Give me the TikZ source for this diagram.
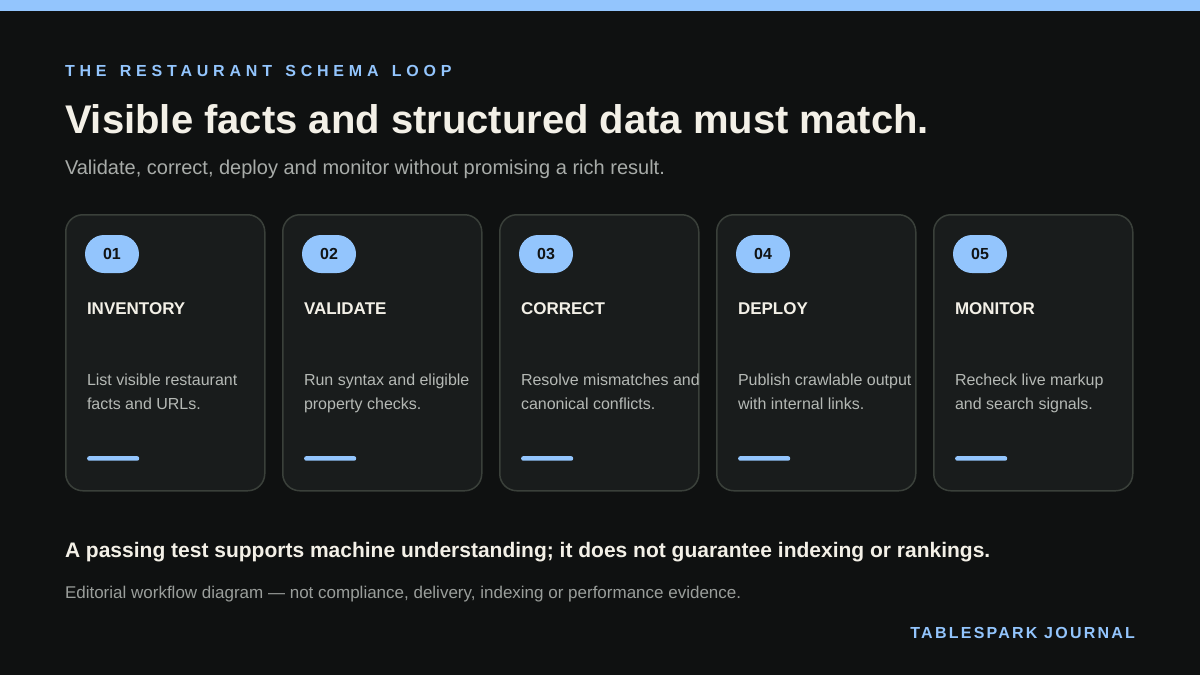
\documentclass[tikz,border=0pt]{standalone}
\usepackage{fontspec}
\setmainfont{Liberation Sans}
\definecolor{bgc}{HTML}{0F1111}
\definecolor{accent}{HTML}{93C5FD}
\definecolor{cardfill}{HTML}{191C1C}
\definecolor{cardline}{HTML}{3A403A}
\definecolor{cream}{HTML}{F3F0E7}
\definecolor{greytext}{HTML}{B5B9B5}
\definecolor{subgrey}{HTML}{A8ACA9}
\definecolor{footgrey}{HTML}{9A9E9B}
\definecolor{badgetext}{HTML}{111415}
\newcommand{\kgap}{\hspace{4pt} }
\tikzset{
  txt/.style={inner sep=0pt, outer sep=0pt, anchor=base west},
  card/.style={draw=cardline, line width=1.5pt, fill=cardfill, rounded corners=17pt,
    minimum width=199pt, minimum height=276pt, anchor=north west, inner sep=0pt},
  badge/.style={fill=accent, rounded corners=19pt, minimum width=54pt, minimum height=38pt,
    inner sep=0pt, text=badgetext, font=\fontsize{16}{19}\selectfont\bfseries},
  bar/.style={fill=accent, rounded corners=2pt, minimum width=52pt, minimum height=4.5pt,
    inner sep=0pt, anchor=north west},
  stitle/.style={txt, text=cream, font=\fontsize{17}{20}\selectfont\bfseries},
  sdesc/.style={txt, text=greytext, font=\fontsize{16}{19}\selectfont},
}
\begin{document}
\begin{tikzpicture}[x=1pt,y=-1pt]
\useasboundingbox (0,0) rectangle (1200,675);
\fill[bgc] (0,0) rectangle (1200,675);
\fill[accent] (0,0) rectangle (1200,10.5);

\node[txt, text=accent, font=\fontsize{16}{19}\selectfont\bfseries\addfontfeature{LetterSpace=30}] (kicker) at (65,76) {THE\kgap RESTAURANT\kgap SCHEMA\kgap LOOP};
\node[txt, text=cream, font=\fontsize{40}{46}\selectfont\bfseries] (title) at (65,133) {Visible facts and structured data must match.};
\node[txt, text=subgrey, font=\fontsize{20}{24}\selectfont] (sub) at (65,174) {Validate, correct, deploy and monitor without promising a rich result.};

\foreach \i/\num/\head/\la/\lb in {
  0/01/INVENTORY/List visible restaurant/facts and URLs.,
  1/02/VALIDATE/Run syntax and eligible/property checks.,
  2/03/CORRECT/Resolve mismatches and/canonical conflicts.,
  3/04/DEPLOY/Publish crawlable output/with internal links.,
  4/05/MONITOR/Recheck live markup/and search signals.}{
  \pgfmathsetmacro{\ox}{65+217*\i}
  \node[card] (card\num) at (\ox,214) {};
  \node[badge] (badge\num) at (\ox+47,254) {\num};
  \node[stitle] (head\num) at (\ox+22,314) {\head};
  \node[sdesc] (da\num) at (\ox+22,385.5) {\la};
  \node[sdesc] (db\num) at (\ox+22,409.5) {\lb};
  \node[bar] (bar\num) at (\ox+22,456) {};
}

\node[txt, text=cream, font=\fontsize{21}{25}\selectfont\bfseries] (note) at (65,557.5) {A passing test supports machine understanding; it does not guarantee indexing or rankings.};
\node[txt, text=footgrey, font=\fontsize{17}{20}\selectfont] (foot) at (65,598.5) {Editorial workflow diagram — not compliance, delivery, indexing or performance evidence.};
\node[inner sep=0pt, outer sep=0pt, anchor=base east, text=accent, font=\fontsize{16}{19}\selectfont\bfseries\addfontfeature{LetterSpace=14}] (brand) at (1135,638) {TABLESPARK JOURNAL};
\end{tikzpicture}
\end{document}
